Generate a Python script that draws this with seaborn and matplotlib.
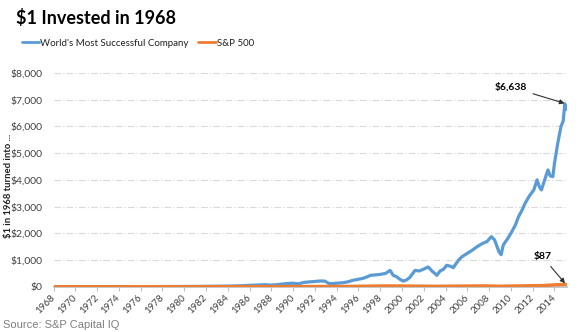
import matplotlib
matplotlib.use("Agg")
import matplotlib.pyplot as plt
import matplotlib.ticker as mticker
import pandas as pd
import seaborn as sns

# Growth of $1 invested at the start of 1968 (total return, USD)
company_years = [
    1968.0, 1970.0, 1972.0, 1974.0, 1976.0, 1978.0, 1980.0, 1981.0, 1982.0, 1983.0,
    1984.0, 1985.0, 1986.0, 1986.8, 1987.5, 1987.9, 1988.5, 1989.0, 1989.5, 1990.0,
    1990.5, 1991.0, 1991.5, 1992.0, 1992.5, 1992.9, 1993.3, 1993.6, 1994.0, 1994.6,
    1995.0, 1995.5, 1996.0, 1996.4, 1996.8, 1997.1, 1997.5, 1998.0, 1998.5, 1998.9,
    1999.2, 1999.5, 1999.8, 2000.1, 2000.4, 2000.7, 2001.2, 2001.6, 2002.0, 2002.4,
    2002.7, 2003.2, 2003.5, 2003.8, 2004.1, 2004.5, 2004.7, 2005.2, 2005.5, 2006.0,
    2006.5, 2006.9, 2007.4, 2007.8, 2008.2, 2008.5, 2008.9, 2009.1, 2009.3, 2009.7,
    2010.0, 2010.4, 2010.7, 2011.0, 2011.3, 2011.7, 2012.1, 2012.4, 2012.6, 2012.8,
    2013.1, 2013.4, 2013.6, 2013.85, 2014.0, 2014.3, 2014.6, 2014.8, 2014.95, 2015.05,
]
company_values = [
    1, 1.3, 2, 2, 3.5, 5, 8, 10, 14, 18,
    22, 32, 50, 65, 75, 60, 75, 100, 120, 130,
    110, 160, 180, 195, 215, 210, 120, 115, 130, 150,
    180, 240, 280, 310, 370, 425, 440, 460, 500, 610,
    425, 375, 280, 210, 250, 340, 610, 590, 660, 740,
    610, 425, 590, 650, 800, 760, 710, 1000, 1120, 1250,
    1380, 1500, 1620, 1690, 1875, 1750, 1310, 1200, 1560, 1800,
    2000, 2300, 2620, 2850, 3120, 3400, 3620, 4000, 3750, 3620,
    4000, 4370, 4150, 4120, 4620, 5370, 6000, 6200, 6850, 6638,
]

sp_years = [
    1968.0, 1970.0, 1974.0, 1980.0, 1985.0, 1990.0, 1995.0, 1998.5, 2000.0,
    2002.5, 2003.0, 2007.5, 2009.0, 2010.0, 2013.0, 2014.0, 2015.05,
]
sp_values = [
    1, 0.95, 0.8, 1.7, 3.3, 6.5, 11, 30, 27,
    18, 16, 31, 18, 26, 45, 70, 87,
]

series_names = ["World's Most Successful Company", "S&P 500"]
series_colors = ["#5B9BD5", "#ED7D31"]

tick_years = list(range(1968, 2015, 2))
y_ticks = list(range(0, 8001, 1000))

df = pd.concat([
    pd.DataFrame({"year": company_years, "value": company_values, "series": series_names[0]}),
    pd.DataFrame({"year": sp_years, "value": sp_values, "series": series_names[1]}),
], ignore_index=True)

sns.set_theme(style="white")
plt.rcParams["font.family"] = ["Lato", "DejaVu Sans"]

fig = plt.figure(figsize=(5.8, 3.32), dpi=100)
ax = fig.add_axes([53.5 / 580, 1 - 286.7 / 332, 513.5 / 580, 213.7 / 332])

palette = dict(zip(series_names, series_colors))
sns.lineplot(data=df, x="year", y="value", hue="series", palette=palette,
             hue_order=series_names, estimator=None, sort=False,
             linewidth=2.3, ax=ax, legend=False)
# S&P 500 line sits on top of the company line
ax.lines[1].set_zorder(3)
ax.lines[1].set_linewidth(2.4)

ax.set_xlim(1968, 2015.15)
ax.set_ylim(0, 8000)
ax.set_xticks(tick_years)
ax.set_xticklabels([str(y) for y in tick_years], rotation=45, ha="right", va="center",
                   rotation_mode="anchor", fontsize=7, color="#404040")
ax.set_yticks(y_ticks)
ax.yaxis.set_major_formatter(mticker.FuncFormatter(lambda v, p: f"${v:,.0f}"))
ax.tick_params(axis="y", labelsize=7.5, labelcolor="#404040", length=0, pad=8)
ax.tick_params(axis="x", length=3, width=0.8, color="#bfbfbf", pad=4, bottom=True)

ax.grid(axis="y", color="#d9d9d9", linewidth=0.8, linestyle=(0, (6, 2, 1, 2)))
ax.grid(axis="x", visible=False)
for side in ["left", "right", "top"]:
    ax.spines[side].set_visible(False)
ax.spines["bottom"].set_color("#bfbfbf")

ax.set_xlabel("")
ax.set_ylabel("$1 in 1968 turned into ...", fontsize=6.8, fontweight="bold",
              color="#202020", family=["Liberation Sans Narrow", "Lato", "DejaVu Sans"])
ax.yaxis.set_label_coords(-0.079, 0.474)

# End-value callouts
ax.annotate(f"${company_values[-1]:,.0f}", xy=(company_years[-1], 6850),
            xytext=(-28, 12), textcoords="offset points", ha="right", va="center",
            fontsize=7.5, fontweight="bold", color="#000000",
            arrowprops=dict(arrowstyle="-|>", color="#303030", lw=0.8,
                            shrinkA=2, shrinkB=1, mutation_scale=7))
ax.annotate(f"${sp_values[-1]:,.0f}", xy=(sp_years[-1], sp_values[-1]),
            xytext=(-17, 20), textcoords="offset points", ha="center", va="center",
            fontsize=7.5, fontweight="bold", color="#000000",
            arrowprops=dict(arrowstyle="-|>", color="#303030", lw=0.8,
                            shrinkA=2, shrinkB=1, mutation_scale=7))

fig.text(0.027, 1 - 18 / 332, "$1 Invested in 1968", fontsize=13, fontweight="bold",
         color="#000000", va="center", ha="left")

handles = [plt.Line2D([], [], color=c, linewidth=2) for c in series_colors]
fig.legend(handles, series_names, loc="center left", bbox_to_anchor=(0.022, 0.870),
           ncol=2, frameon=False, fontsize=7, handlelength=1.8, handletextpad=0.1,
           columnspacing=1.0, labelcolor="#202020")

fig.text(0.005, 1 - 325 / 332, "Source: S&P Capital IQ", fontsize=8, color="#7f7f7f",
         family=["Liberation Sans", "DejaVu Sans"], va="center", ha="left")

fig.savefig("out.png", dpi=100)
